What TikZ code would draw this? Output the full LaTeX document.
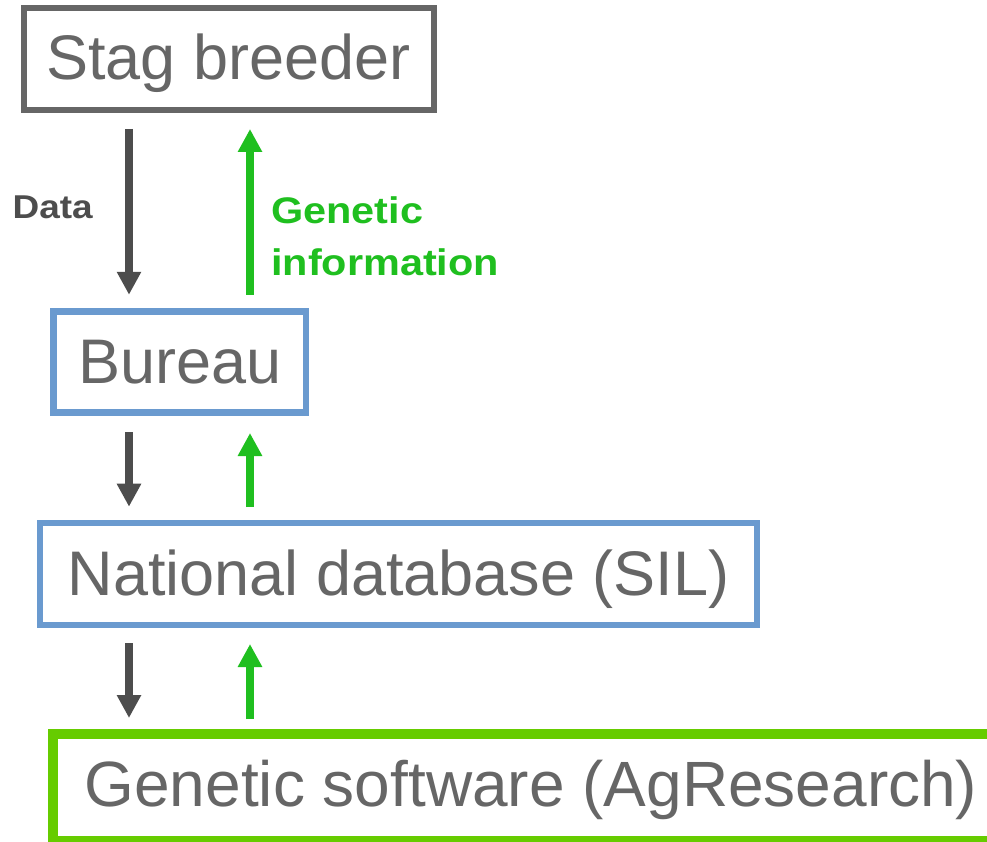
\documentclass[tikz,border=0pt]{standalone}
\usepackage{fontspec}
\setmainfont{Liberation Sans}
\usetikzlibrary{arrows.meta}
\definecolor{boxgray}{HTML}{666666}
\definecolor{txtgray}{HTML}{666666}
\definecolor{boxblue}{HTML}{6A9ACF}
\definecolor{boxgreen}{HTML}{66CC00}
\definecolor{arrdark}{HTML}{4D4D4D}
\definecolor{arrgreen}{HTML}{1FBF1F}
\begin{document}
\begin{tikzpicture}[x=1pt,y=-1pt,
  boxbase/.style={rectangle, inner sep=0pt, text=txtgray,
    font=\fontsize{63}{75}\selectfont, fill=white},
  darr/.style={draw=arrdark, line width=8pt, -{Triangle[width=23pt,length=23pt]}},
  garr/.style={draw=arrgreen, line width=8pt, -{Triangle[width=23pt,length=23pt]}},
  lbl/.style={inner sep=0pt}
]
\useasboundingbox (0,0) rectangle (987,842);
\fill[white] (0,0) rectangle (987,842);

\node[boxbase, draw=boxgray, line width=6pt, minimum width=410pt, minimum height=101.5pt,
  text height=46pt, text depth=4.5pt] (stag) at (228.5,59.25) {Stag breeder};
\node[boxbase, draw=boxblue, line width=6.5pt, minimum width=252.5pt, minimum height=101pt,
  text height=46pt, text depth=2.9pt] (bureau) at (179.75,361.75) {Bureau};
\node[boxbase, draw=boxblue, line width=6pt, minimum width=717.7pt, minimum height=101.5pt,
  text height=46pt, text depth=3.5pt] (natdb) at (398.5,573.75) {National database (SIL)};
\node[boxbase, draw=boxgreen, line width=9.5pt, minimum width=956pt, minimum height=106.5pt,
  text height=46pt, text depth=7.1pt, font=\fontsize{64}{76}\selectfont] (gensw) at (531,787.25) {Genetic software (AgResearch)};

\coordinate (cd) at (129,0);
\coordinate (cg) at (250,0);

\draw[darr, shorten <=16pt, shorten >=13.25pt] (stag.south -| cd) -- (bureau.north -| cd);
\draw[garr, shorten <=13.25pt, shorten >=16pt] (bureau.north -| cg) -- (stag.south -| cg);
\draw[darr, shorten <=16.5pt, shorten >=13.3pt] (bureau.south -| cd) -- (natdb.north -| cd);
\draw[garr, shorten <=13pt, shorten >=17.5pt] (natdb.north -| cg) -- (bureau.south -| cg);
\draw[darr, shorten <=15.5pt, shorten >=11.25pt] (natdb.south -| cd) -- (gensw.north -| cd);
\draw[garr, shorten <=10.25pt, shorten >=16.5pt] (gensw.north -| cg) -- (natdb.south -| cg);

\node[lbl, text=arrdark, anchor=base west,
  font=\bfseries\fontsize{33}{40}\selectfont\addfontfeatures{FakeStretch=1.12}] (data) at (12.5,218.3) {Data};
\node[lbl, text=arrgreen, anchor=base west, align=left,
  font=\bfseries\fontsize{37}{52.5}\selectfont\addfontfeatures{FakeStretch=1.12}] (geninfo) at (271,276) {Genetic\\information};
\end{tikzpicture}
\end{document}
